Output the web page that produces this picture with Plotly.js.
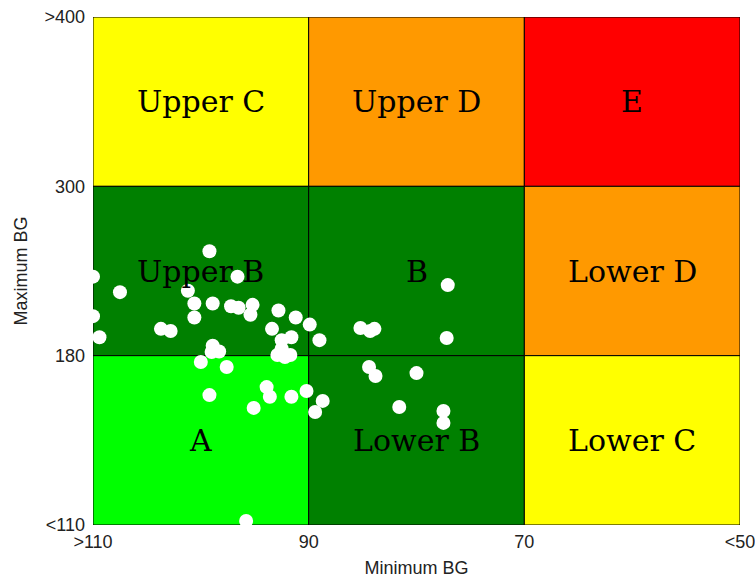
<!DOCTYPE html>
<html>
<head>
<meta charset="utf-8">
<script src="https://cdn.plot.ly/plotly-3.0.1.min.js"></script>
<style>
  html, body { margin: 0; padding: 0; background: #fff; }
  #chart { width: 755px; height: 581px; }
</style>
</head>
<body>
<div id="chart"></div>
<script>
// Minimum and maximum BG for each subject (mg/dL)
const minBG = [99.2, 110, 96.6, 107.5, 101.2, 100.6, 98.9, 97.2, 96.5, 95.2,
               95.4, 100.6, 92.8, 91.2, 89.9, 110, 109.4, 103.7, 102.8, 93.4,
               91.6, 92.5, 89.0, 98.9, 98.3, 99.0, 92.5, 92.9, 91.7, 92.2,
               100.0, 97.6, 93.9, 93.6, 99.2, 91.6, 90.2, 95.1, 89.4, 88.7,
               77.1, 85.2, 84.3, 83.9, 77.2, 84.4, 83.8, 80.0, 81.6, 77.5,
               77.5, 95.8];
const maxBG = [254, 236, 236, 225, 226, 217, 217, 215, 214, 216,
               209, 207, 212, 207, 202, 208, 193, 199, 197.5, 199,
               193, 191, 191, 187, 183, 182.6, 185, 180.5, 180.5, 179.4,
               177.4, 175.3, 167, 163, 163.7, 163, 165.4, 158.4, 156.7, 161.3,
               230, 199.6, 197.5, 199, 192.5, 175.3, 171.6, 172.8, 158.8, 157.1,
               152.2, 111.7];

// Grid boundaries
const xBounds = [110, 90, 70, 50];
const xTickText = ['>110', '90', '70', '<50'];
const yBounds = [110, 180, 300, 400];
const yTickText = ['<110', '180', '300', '>400'];

// Zones, top row first, left to right
const zoneNames = [
  ['Upper C', 'Upper D', 'E'],
  ['Upper B', 'B', 'Lower D'],
  ['A', 'Lower B', 'Lower C']
];
const zoneColors = [
  ['#ffff00', '#ff9900', '#ff0000'],
  ['#008000', '#008000', '#ff9900'],
  ['#00ff00', '#008000', '#ffff00']
];

// Maximum BG bands are equally tall: map a value onto band units 0..3
function yBand(v) {
  if (v <= yBounds[0]) return 0;
  for (let i = 0; i < yBounds.length - 1; i++) {
    if (v <= yBounds[i + 1]) {
      return i + (v - yBounds[i]) / (yBounds[i + 1] - yBounds[i]);
    }
  }
  return yBounds.length - 1;
}

const shapes = [];
const annotations = [];
for (let r = 0; r < 3; r++) {
  const y1 = 3 - r, y0 = 2 - r;
  for (let c = 0; c < 3; c++) {
    shapes.push({
      type: 'rect', layer: 'below',
      xref: 'x', yref: 'y',
      x0: xBounds[c], x1: xBounds[c + 1], y0: y0, y1: y1,
      fillcolor: zoneColors[r][c],
      line: { color: '#000', width: 1 }
    });
    annotations.push({
      xref: 'x', yref: 'y',
      x: (xBounds[c] + xBounds[c + 1]) / 2, y: (y0 + y1) / 2,
      text: zoneNames[r][c], showarrow: false,
      font: { family: 'DejaVu Serif, serif', size: 30, color: '#000' }
    });
  }
}

const trace = {
  type: 'scatter', mode: 'markers',
  x: minBG,
  y: maxBG.map(yBand),
  marker: { color: '#ffffff', size: 14, line: { width: 0 } },
  cliponaxis: true,
  hoverinfo: 'skip'
};

const tickFont = { family: 'Liberation Sans, Arial, sans-serif', size: 18, color: '#222' };

const layout = {
  width: 755, height: 581,
  margin: { l: 93, r: 15, t: 17, b: 56 },
  paper_bgcolor: '#ffffff', plot_bgcolor: '#ffffff',
  showlegend: false,
  xaxis: {
    range: [110, 50],
    tickmode: 'array', tickvals: xBounds, ticktext: xTickText,
    showgrid: false, zeroline: false, ticks: '', ticklen: 0,
    ticklabelstandoff: 4,
    ticklabeloverflow: 'allow',
    tickfont: tickFont,
    title: { text: 'Minimum BG', font: tickFont, standoff: 10 },
    automargin: false,
    fixedrange: true
  },
  yaxis: {
    range: [0, 3],
    tickmode: 'array', tickvals: [0, 1, 2, 3], ticktext: yTickText,
    showgrid: false, zeroline: false, ticks: '', ticklen: 0,
    ticklabelstandoff: 7,
    ticklabeloverflow: 'allow',
    tickfont: tickFont,
    title: { text: 'Maximum BG', font: tickFont, standoff: 12 },
    automargin: false,
    fixedrange: true
  },
  shapes: shapes,
  annotations: annotations
};

Plotly.newPlot('chart', [trace], layout, { displayModeBar: false, staticPlot: true });
</script>
</body>
</html>
